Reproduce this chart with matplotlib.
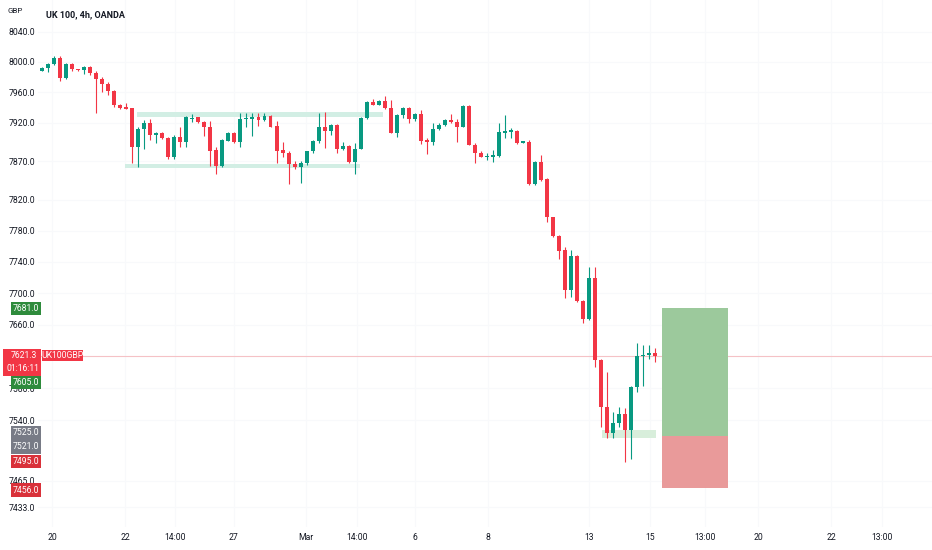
import matplotlib
matplotlib.use("Agg")
import matplotlib.pyplot as plt
from matplotlib.patches import Rectangle
from matplotlib.ticker import NullLocator, FixedLocator, FixedFormatter
import numpy as np

plt.rcParams['font.family'] = ['Roboto', 'DejaVu Sans']

# 4h candles, UK 100 (OANDA)
opens = [7988.4, 7992.0, 7997.2, 8005.1, 7978.7, 7997.2, 7990.2, 7989.0, 7992.9, 7985.0,
         7977.8, 7970.8, 7962.1, 7942.9, 7940.0, 7938.8, 7888.0, 7912.2, 7919.3, 7904.0,
         7907.0, 7900.5, 7874.9, 7901.8, 7895.3, 7924.5, 7927.2, 7921.0, 7914.8, 7884.4,
         7863.7, 7896.6, 7906.2, 7894.9, 7924.5, 7925.3, 7927.2, 7923.6, 7928.9, 7915.7,
         7884.0, 7880.9, 7866.2, 7862.0, 7867.1, 7882.7, 7895.8, 7914.0, 7909.6, 7917.1,
         7885.3, 7889.6, 7869.2, 7886.1, 7926.2, 7947.2, 7943.7, 7948.9, 7939.3, 7907.0,
         7930.2, 7939.3, 7924.5, 7931.1, 7897.5, 7894.9, 7912.2, 7917.5, 7923.6, 7921.4,
         7914.8, 7942.0, 7891.0, 7880.9, 7875.5, 7875.7, 7877.0, 7907.2, 7908.3, 7909.6,
         7894.1, 7895.3, 7840.3, 7868.8, 7846.4, 7797.4, 7773.3, 7755.4, 7704.3, 7747.7,
         7690.8, 7667.2, 7719.6, 7615.8, 7557.3, 7524.2, 7537.4, 7547.9, 7528.3, 7582.3,
         7621.0, 7622.5, 7624.6]
highs = [7992.9, 7999.0, 8007.8, 8007.8, 7998.0, 7998.9, 7990.5, 7994.0, 7994.6, 7988.4,
         7979.8, 7973.0, 7962.6, 7944.2, 7946.2, 7939.3, 7914.0, 7923.6, 7924.5, 7908.3,
         7907.5, 7901.8, 7903.5, 7914.0, 7928.9, 7931.5, 7928.0, 7922.7, 7922.7, 7888.7,
         7898.4, 7907.9, 7907.9, 7932.4, 7932.4, 7933.2, 7933.2, 7933.2, 7929.8, 7922.7,
         7895.3, 7882.7, 7869.5, 7870.5, 7883.5, 7897.5, 7932.8, 7933.7, 7918.4, 7918.4,
         7895.3, 7890.5, 7894.0, 7927.9, 7948.5, 7951.5, 7949.8, 7955.1, 7949.8, 7931.5,
         7940.2, 7940.2, 7932.4, 7936.7, 7899.7, 7919.3, 7920.0, 7924.5, 7931.5, 7924.5,
         7942.9, 7942.9, 7893.2, 7883.5, 7880.9, 7884.4, 7919.3, 7930.6, 7912.7, 7910.5,
         7896.6, 7897.5, 7869.7, 7877.5, 7847.7, 7798.2, 7774.2, 7758.9, 7755.4, 7749.0,
         7691.6, 7734.0, 7734.0, 7616.7, 7601.1, 7551.1, 7556.6, 7555.3, 7583.2, 7637.6,
         7634.3, 7634.7, 7630.5]
lows = [7987.6, 7987.0, 7996.2, 7975.2, 7977.0, 7988.4, 7988.5, 7984.0, 7983.0, 7932.4,
        7960.0, 7956.4, 7941.1, 7937.6, 7937.6, 7867.9, 7862.0, 7886.1, 7897.5, 7893.2,
        7899.2, 7873.1, 7872.3, 7888.0, 7888.7, 7921.0, 7920.0, 7902.7, 7863.7, 7853.3,
        7862.0, 7895.8, 7894.0, 7888.7, 7914.0, 7902.7, 7915.7, 7922.7, 7914.0, 7867.1,
        7875.7, 7840.3, 7860.2, 7841.2, 7865.3, 7880.0, 7893.2, 7886.6, 7903.6, 7880.1,
        7884.4, 7868.0, 7853.3, 7885.3, 7925.3, 7942.9, 7942.9, 7938.4, 7906.2, 7901.8,
        7926.2, 7919.3, 7922.7, 7892.3, 7879.2, 7891.0, 7910.5, 7915.7, 7920.0, 7895.3,
        7914.0, 7890.5, 7867.9, 7874.9, 7871.4, 7869.2, 7875.7, 7899.7, 7899.7, 7892.3,
        7894.1, 7839.4, 7839.4, 7844.6, 7791.7, 7771.7, 7744.3, 7693.8, 7695.0, 7689.1,
        7662.1, 7666.3, 7607.4, 7532.4, 7518.0, 7518.0, 7532.4, 7489.0, 7492.0, 7576.1,
        7583.2, 7616.7, 7613.7]
closes = [7992.0, 7997.2, 8005.1, 7978.7, 7997.2, 7990.2, 7989.0, 7992.9, 7985.0, 7977.8,
          7970.8, 7962.1, 7942.9, 7939.3, 7938.4, 7888.0, 7912.2, 7919.3, 7904.0, 7907.0,
          7900.5, 7874.9, 7901.8, 7895.3, 7927.2, 7926.2, 7921.0, 7914.8, 7883.5, 7863.7,
          7897.5, 7906.2, 7895.0, 7925.3, 7926.2, 7927.2, 7923.6, 7928.9, 7914.8, 7882.7,
          7880.9, 7866.2, 7862.0, 7867.1, 7882.7, 7895.8, 7914.0, 7909.6, 7917.1, 7885.3,
          7889.6, 7869.2, 7886.1, 7926.2, 7947.2, 7943.7, 7948.9, 7939.3, 7907.0, 7930.2,
          7939.3, 7924.5, 7931.1, 7896.6, 7894.9, 7912.2, 7917.5, 7923.6, 7921.4, 7914.8,
          7942.0, 7891.0, 7880.9, 7875.7, 7876.6, 7877.5, 7907.9, 7908.8, 7910.1, 7893.2,
          7895.8, 7840.3, 7868.8, 7845.5, 7797.4, 7773.3, 7754.5, 7704.3, 7747.7, 7690.0,
          7667.2, 7719.6, 7615.8, 7557.3, 7524.2, 7537.4, 7547.9, 7528.3, 7582.3, 7620.8,
          7622.5, 7624.6, 7621.3]

last_price = 7621.3
take_profit = 7681.0
entry = 7521.0
stop_loss = 7456.0
zone_price = 7525.0

# drawn rectangles: (x0, x1, low, high) in bar index / price
range_top = (15.8, 56.7, 7927.6, 7934.1)
range_bot = (13.8, 52.9, 7860.7, 7866.8)
demand_zone = (93.1, 102.1, 7518.3, 7528.3)
position_x = (103.1, 114.1)

price_ticks = [8040, 8000, 7960, 7920, 7870, 7820, 7780, 7740, 7700, 7660, 7580, 7540, 7465, 7433]
time_ticks = [1.66, 13.8, 22.2, 31.9, 43.9, 52.4, 62.0, 74.2, 91.0, 101.1, 110.3, 119.1, 131.2, 139.7]
time_labels = ['20', '22', '14:00', '27', 'Mar', '14:00', '6', '8', '13', '15', '13:00', '20', '22', '13:00']

UP = '#089981'
DOWN = '#f23645'
TXT = '#131722'
FS = 6.2

W, H = 932, 550
fig = plt.figure(figsize=(W / 100, H / 100), dpi=100)
fig.patch.set_facecolor('white')
ax_left, ax_bottom = 38, 527   # pixels
ax = fig.add_axes([ax_left / W, (H - ax_bottom) / H, (W - ax_left) / W, ax_bottom / H])
ax.set_yscale('log')
ax.set_ylim(7408.5, 8082.2)
ax.set_xlim(-0.665, 148.0)

o = np.array(opens); h = np.array(highs); l = np.array(lows); c = np.array(closes)
x = np.arange(len(o))
col = np.where(c >= o, UP, DOWN)
ax.vlines(x, l, h, colors=col, linewidth=0.8, zorder=3)
bot = np.minimum(o, c)
hgt = np.maximum(np.abs(c - o), 1.2)
ax.bar(x, hgt, bottom=bot, width=0.66, color=col, linewidth=0, zorder=4)

for (x0, x1, lo, hi) in [range_top, range_bot]:
    ax.add_patch(Rectangle((x0, lo), x1 - x0, hi - lo, fc='#d2eee4', ec='none', zorder=2))
x0, x1, lo, hi = demand_zone
ax.add_patch(Rectangle((x0, lo), x1 - x0, hi - lo, fc='#d8eedb', ec='none', zorder=2))

px0, px1 = position_x
ax.add_patch(Rectangle((px0, entry), px1 - px0, take_profit - entry, fc='#9cc99c', ec='none', zorder=2))
ax.add_patch(Rectangle((px0, stop_loss), px1 - px0, entry - stop_loss, fc='#e99a9a', ec='none', zorder=2))

ax.axhline(last_price, color='#f5c2c6', linewidth=0.8, zorder=1)

ax.yaxis.set_minor_locator(NullLocator())
ax.yaxis.set_major_locator(FixedLocator(price_ticks))
ax.yaxis.set_major_formatter(FixedFormatter(['%.1f' % p for p in price_ticks]))
ax.set_xticks(time_ticks)
ax.set_xticklabels(time_labels)
ax.tick_params(axis='both', length=0, labelsize=FS, colors=TXT)
ax.tick_params(axis='y', pad=2)
ax.tick_params(axis='x', pad=4)
ax.grid(color='#f8f9fb', linewidth=0.8)
ax.set_axisbelow(True)
for s in ax.spines.values():
    s.set_visible(False)


def price_px(p):
    # display y (from bottom) of a price
    return ax.transData.transform((0, p))[1]


def tag(p, text, color, shift=0, x0=10.5, x1=41, hh=13.5, tc='white'):
    y = price_px(p) - shift
    fig.patches.append(Rectangle((x0 / W, (y - hh / 2) / H), (x1 - x0) / W, hh / H,
                                 transform=fig.transFigure, fc=color, ec='none', zorder=5))
    fig.text((x0 + x1) / 2 / W, y / H, text, ha='center', va='center', color=tc,
             fontsize=FS, zorder=6)


tag(take_profit, '%.1f' % take_profit, '#2e8b3c')
tag(7605.0, '7605.0', '#2e8b3c', shift=14)
tag(zone_price, '%.1f' % zone_price, '#787b86', hh=14)
tag(entry, '%.1f' % entry, '#787b86', shift=11, hh=14)
tag(7495.0, '7495.0', '#d9313a', shift=5)
tag(stop_loss, '%.1f' % stop_loss, '#d9313a', shift=1.7)

# current price tag with countdown
yl = price_px(last_price)
fig.patches.append(Rectangle((3 / W, (yl - 20) / H), 38 / W, 26.5 / H,
                             transform=fig.transFigure, fc=DOWN, ec='none', zorder=5))
fig.text(24 / W, yl / H, '%.1f' % last_price, ha='center', va='center', color='white', fontsize=FS, zorder=6)
fig.text(22.5 / W, (yl - 12.5) / H, '01:16:11', ha='center', va='center', color='white', fontsize=FS, zorder=6)
fig.patches.append(Rectangle((42 / W, (yl - 5.5) / H), 41 / W, 11.5 / H,
                             transform=fig.transFigure, fc=DOWN, ec='none', zorder=5))
fig.text(62.5 / W, yl / H, 'UK100GBP', ha='center', va='center', color='white', fontsize=FS, zorder=6)

fig.text(7 / W, (H - 11) / H, 'GBP', ha='left', va='center', color=TXT, fontsize=5.8)
fig.text(45.5 / W, (H - 14.5) / H, 'UK 100, 4h, OANDA', ha='left', va='center', color=TXT,
         fontsize=6.5, fontweight='semibold')

fig.savefig('out.png', dpi=100, facecolor='white')
